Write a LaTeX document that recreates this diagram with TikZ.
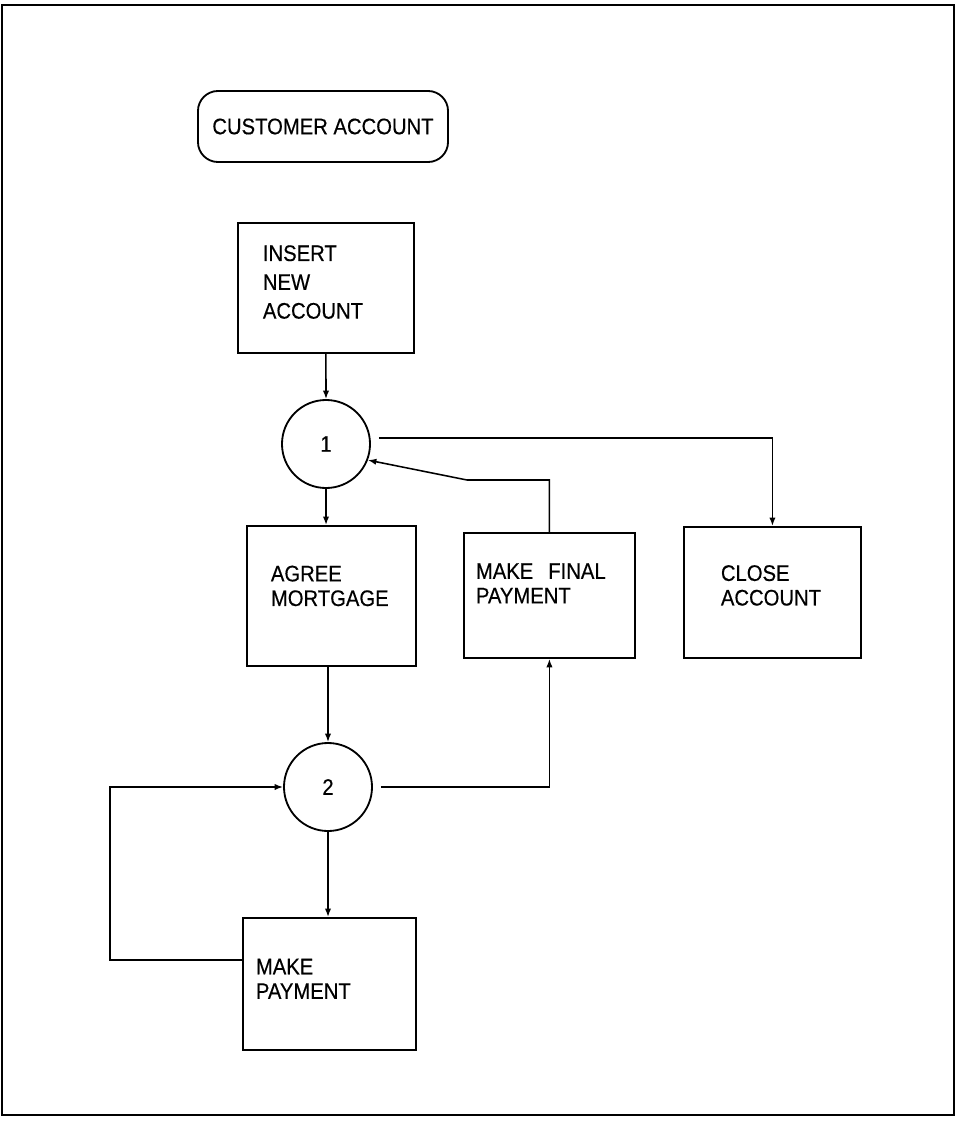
\documentclass[tikz,border=0pt]{standalone}
\usepackage{fontspec}
\setmainfont[FakeStretch=0.9, FakeBold=0.4]{Liberation Sans}
\usetikzlibrary{arrows.meta,positioning}

\tikzset{
  flowbox/.style={draw, line width=1.3pt, rectangle, anchor=north west, align=left,
    font=\fontsize{16}{17.5}\selectfont, inner ysep=0pt},
  statenode/.style={draw, circle, line width=1.3pt, minimum size=2.2cm, inner sep=0pt,
    font=\fontsize{16}{17.5}\selectfont},
  flow/.style={line width=1.1pt, -{Latex[length=6pt,width=4.5pt]}},
}

\begin{document}
\begin{tikzpicture}[x=0.025cm, y=-0.025cm]
        % Page frame
        \useasboundingbox (0,0) rectangle (956,1123);
        \draw[line width=1.3pt] (2,5) rectangle (954,1115);
        % Entity name
        \node[draw, line width=1.3pt, rounded corners=0.5cm, minimum width=6.25cm, minimum height=1.775cm,
          font=\fontsize{16}{17.5}\selectfont] (entity) at (323,126.5) {CUSTOMER ACCOUNT};
        % Event boxes (text depth lifts the text a little above the middle)
        \node[flowbox, minimum width=4.4cm, minimum height=3.25cm, inner xsep=0.625cm, text width=3.15cm,
          font=\fontsize{16}{20.5}\selectfont, text depth=1.74cm] (insert) at (237,222) {INSERT\\NEW\\ACCOUNT};
        \node[flowbox, minimum width=4.225cm, minimum height=3.5cm, inner xsep=0.6cm, text width=3.025cm,
          text depth=1.12cm] (agree) at (246,525) {AGREE\\MORTGAGE};
        \node[flowbox, minimum width=4.275cm, minimum height=3.125cm, inner xsep=0.3cm, text width=3.675cm,
          text depth=1.22cm] (final) at (463,532) {MAKE~~FINAL\\PAYMENT};
        \node[flowbox, minimum width=4.425cm, minimum height=3.275cm, inner xsep=0.925cm, text width=2.575cm,
          text depth=0.97cm] (close) at (683,526) {CLOSE\\ACCOUNT};
        \node[flowbox, minimum width=4.325cm, minimum height=3.3cm, inner xsep=0.325cm, text width=3.675cm,
          text depth=0.87cm] (payment) at (242,917) {MAKE\\PAYMENT};
        % States
        \node[statenode] (s1) at (326,444) {1};
        \node[statenode] (s2) at (328,787) {2};
        % Bends
        \coordinate (back) at (467,480);
        \coordinate (loop) at (110,960);
        % Connectors
        \draw[flow] (insert.south) -- (s1.north);
        \draw[flow] (s1.south) -- (s1.south |- agree.north);
        \draw[flow] ([shift={(0.2cm,0.15cm)}]s1.east) -| (close.north);
        \draw[flow] (final.north) |- (back) -- (s1.-21);
        \draw[flow] (s2.north |- agree.south) -- (s2.north);
        \draw[flow] ([xshift=0.2cm]s2.east) -| (final.south);
        \draw[flow] (s2.south) -- (s2.south |- payment.north);
        \draw[flow] (payment.west |- loop) -- (loop) |- (s2.west);
\end{tikzpicture}
\end{document}
